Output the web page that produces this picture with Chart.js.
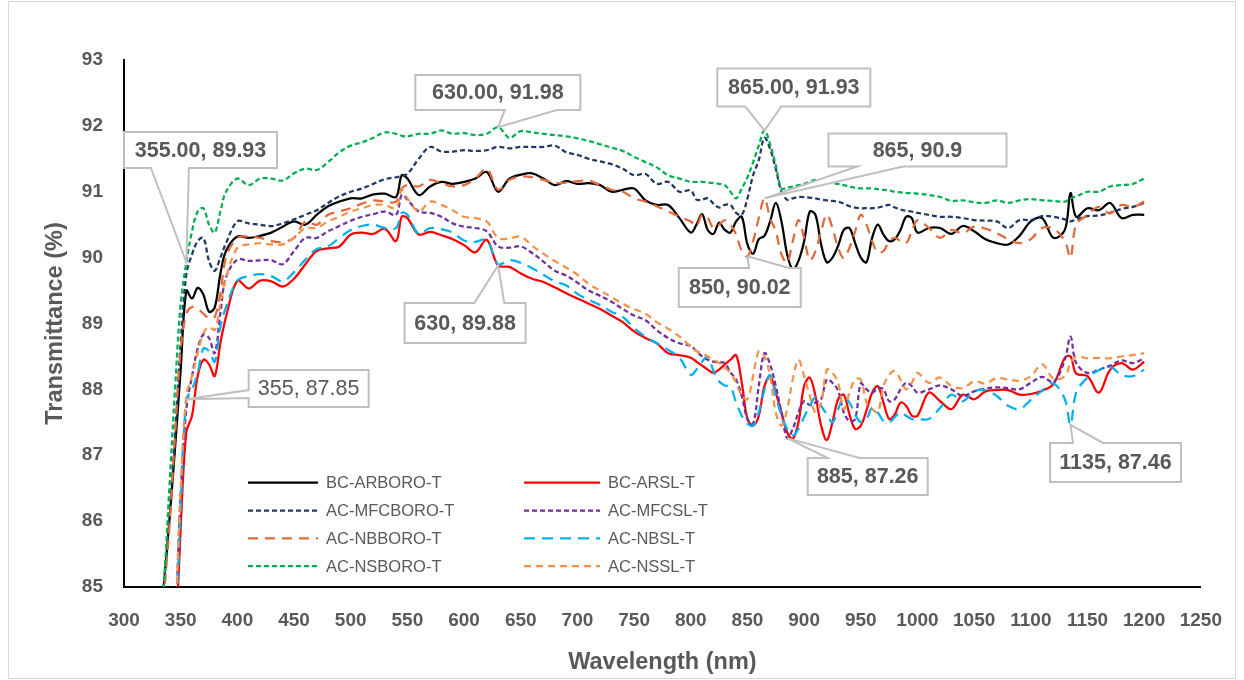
<!DOCTYPE html>
<html>
<head>
<meta charset="utf-8">
<title>Transmittance</title>
<script src="https://cdn.jsdelivr.net/npm/chart.js@4.4.0/dist/chart.umd.min.js"></script>
<style>
  html, body { margin: 0; padding: 0; background: #fff; }
  #contenedor { position: relative; width: 1244px; height: 680px; }
</style>
</head>
<body>
<div id="contenedor"><canvas id="grafica-transmitancia"></canvas></div>
<script>
//------- Datos (longitud de onda en nm, transmitancia en %)

var longitudOnda = [330,335,340,345,350,355,360,365,370,375,380,385,390,
  400,410,420,430,440,450,460,470,480,490,500,510,520,530,540,545,
  550,560,570,580,590,600,610,620,630,640,650,660,670,680,690,700,710,720,730,740,750,760,770,780,790,
  800,805,810,815,820,825,830,835,840,845,850,855,860,865,870,875,880,885,890,895,
  900,905,910,915,920,925,930,935,940,945,950,955,960,965,970,975,980,985,990,995,1000,
  1010,1020,1030,1040,1050,1060,1070,1080,1090,1100,1110,1120,1130,1135,1140,1150,1160,1170,1180,1190,1200];

var bcArBoro = [84.0,85.0,86.0,87.1,88.3,89.5,89.38,89.54,89.44,89.18,89.24,89.75,90.1,
  90.32,90.3,90.33,90.38,90.47,90.55,90.5,90.65,90.78,90.85,90.9,90.9,90.96,90.97,90.92,91.25,
  91.2,90.95,91.08,91.15,91.12,91.15,91.2,91.3,91.0,91.2,91.26,91.28,91.2,91.1,91.16,91.12,91.13,91.1,91.0,91.03,91.05,90.87,90.8,90.8,90.6,
  90.38,90.5,90.66,90.42,90.36,90.53,90.42,90.38,90.55,90.62,90.2,90.06,90.28,90.33,90.55,90.83,90.55,90.05,89.82,89.95,
  90.25,90.7,90.65,90.2,89.93,90.0,90.18,90.42,90.45,90.22,90.0,89.93,90.3,90.5,90.35,90.25,90.28,90.42,90.62,90.6,90.38,
  90.45,90.45,90.36,90.48,90.4,90.28,90.22,90.2,90.33,90.55,90.6,90.3,90.42,90.98,90.62,90.75,90.72,90.83,90.6,90.65,90.65];

var bcArSl = [78.5,80.5,82.2,83.9,85.9,87.35,87.6,88.2,88.45,88.38,88.2,88.7,89.1,
  89.65,89.53,89.65,89.64,89.56,89.68,89.9,90.1,90.14,90.17,90.35,90.38,90.36,90.44,90.25,90.62,
  90.6,90.35,90.39,90.34,90.28,90.19,90.08,90.27,89.88,89.86,89.76,89.68,89.63,89.55,89.46,89.38,89.3,89.22,89.12,89.02,88.88,88.78,88.7,88.55,88.52,
  88.48,88.42,88.36,88.3,88.25,88.3,88.38,88.45,88.52,88.1,87.55,87.45,87.6,88.05,88.2,87.95,87.65,87.35,87.25,87.5,
  88.05,88.18,87.9,87.45,87.23,87.5,87.85,87.92,87.62,87.4,87.45,87.68,87.95,88.05,87.8,87.55,87.62,87.8,87.75,87.6,87.6,
  87.95,87.82,87.7,87.92,87.85,87.97,87.99,87.99,87.92,87.93,87.98,88.08,88.48,88.5,88.24,88.2,87.95,88.3,88.4,88.3,88.42];

var acMfcBoro = [84.0,85.0,86.1,87.3,88.7,89.75,90.05,90.25,90.3,89.95,89.8,90.0,90.22,
  90.55,90.52,90.5,90.48,90.52,90.58,90.65,90.72,90.83,90.93,91.0,91.05,91.12,91.19,91.22,91.24,
  91.27,91.5,91.68,91.61,91.61,91.63,91.62,91.63,91.68,91.66,91.68,91.68,91.68,91.7,91.6,91.56,91.5,91.46,91.42,91.35,91.25,91.27,91.12,91.15,91.0,
  91.02,90.88,90.88,90.9,90.82,90.76,90.8,90.8,90.68,90.65,90.9,91.25,91.48,91.82,91.65,91.35,91.0,90.88,90.9,90.92,
  90.92,90.91,90.9,90.88,90.87,90.86,90.85,90.82,90.78,90.76,90.75,90.75,90.75,90.76,90.78,90.8,90.76,90.73,90.71,90.7,90.68,
  90.65,90.62,90.62,90.6,90.57,90.56,90.55,90.45,90.57,90.57,90.63,90.62,90.58,90.55,90.58,90.63,90.64,90.68,90.74,90.77,90.83];

var acMfcSl = [78.5,80.5,82.4,84.2,86.4,87.7,88.2,88.62,88.83,88.78,88.55,89.15,89.7,
  89.97,89.95,89.96,89.96,89.9,90.1,90.3,90.3,90.4,90.48,90.56,90.62,90.66,90.7,90.65,90.95,
  90.88,90.7,90.68,90.62,90.52,90.47,90.45,90.4,90.17,90.15,90.17,90.07,89.94,89.8,89.73,89.62,89.5,89.42,89.33,89.22,89.12,89.05,88.9,88.78,88.7,
  88.66,88.58,88.5,88.45,88.42,88.41,88.4,88.26,88.15,87.9,87.55,87.48,88.05,88.55,88.38,88.05,87.65,87.26,87.4,87.65,
  87.82,87.76,87.8,87.85,88.15,88.1,87.98,87.65,87.52,87.55,88.09,88.0,87.95,88.02,88.0,87.82,87.85,88.0,88.1,88.05,87.95,
  88.0,88.06,88.0,87.9,87.97,88.01,88.03,88.02,88.0,88.1,88.19,88.11,88.45,88.8,88.4,88.25,88.3,88.36,88.44,88.4,88.47];

var acNbBoro = [83.5,84.8,85.9,87.3,88.6,89.15,89.25,89.22,89.15,89.08,89.1,89.45,90.0,
  90.3,90.32,90.3,90.25,90.24,90.3,90.55,90.5,90.65,90.7,90.75,90.82,90.87,90.85,90.85,91.05,
  91.1,91.08,91.18,91.13,91.08,91.1,91.2,91.35,91.03,91.18,91.23,91.22,91.18,91.13,91.14,91.16,91.17,91.1,91.03,91.0,90.9,90.85,90.78,90.7,90.62,
  90.55,90.48,90.65,90.6,90.45,90.5,90.57,90.5,90.35,90.1,90.02,90.25,90.6,90.9,90.6,90.4,90.05,89.92,90.25,90.57,
  90.3,89.96,90.1,90.4,90.65,90.45,90.15,89.99,90.15,90.4,90.65,90.5,90.25,90.08,90.1,90.25,90.3,90.25,90.22,90.4,90.57,
  90.45,90.3,90.42,90.37,90.47,90.44,90.37,90.28,90.22,90.28,90.45,90.44,90.25,90.0,90.5,90.65,90.77,90.67,90.8,90.77,90.85];

var acNbSl = [78.5,80.5,82.4,84.0,86.2,87.85,88.0,88.25,88.62,88.58,88.42,88.95,89.25,
  89.65,89.72,89.75,89.72,89.64,89.78,89.97,90.13,90.17,90.3,90.42,90.48,90.5,90.45,90.45,90.68,
  90.65,90.36,90.45,90.43,90.38,90.26,90.24,90.27,89.9,89.96,89.92,89.84,89.74,89.64,89.58,89.45,89.36,89.28,89.18,89.1,88.93,88.8,88.7,88.6,88.48,
  88.22,88.3,88.42,88.5,88.28,88.12,88.06,88.04,87.8,87.6,87.48,87.45,87.65,87.99,88.22,87.9,87.6,87.4,87.3,87.4,
  87.58,87.75,87.88,87.75,87.62,87.5,87.7,87.88,87.8,87.62,87.5,87.55,87.72,87.65,87.52,87.5,87.58,87.65,87.6,87.55,87.55,
  87.55,87.72,87.92,87.82,87.97,87.99,87.9,87.75,87.7,87.84,87.98,88.09,87.85,87.46,87.95,88.18,88.29,88.34,88.22,88.2,88.3];

var acNsBoro = [84.0,85.0,86.5,88.0,89.3,89.93,90.4,90.7,90.75,90.5,90.38,90.7,91.0,
  91.2,91.1,91.2,91.2,91.17,91.28,91.35,91.33,91.45,91.6,91.7,91.75,91.82,91.9,91.88,91.85,
  91.84,91.88,91.88,91.93,91.88,91.89,91.86,91.88,91.98,91.82,91.92,91.9,91.88,91.86,91.84,91.81,91.77,91.72,91.67,91.62,91.53,91.45,91.37,91.25,91.2,
  91.15,91.15,91.15,91.14,91.13,91.12,91.1,91.0,90.9,91.05,91.22,91.45,91.7,91.93,91.72,91.4,91.05,91.06,91.08,91.1,
  91.12,91.15,91.18,91.16,91.15,91.13,91.12,91.1,91.08,91.06,91.05,91.05,91.05,91.04,91.03,91.02,91.0,90.99,90.98,90.98,90.97,
  90.95,90.92,90.86,90.87,90.84,90.83,90.87,90.83,90.87,90.89,90.87,90.86,90.85,90.9,90.93,91.0,91.0,91.08,91.1,91.12,91.2];

var acNsSl = [78.5,80.5,82.4,84.3,86.5,87.9,88.2,88.55,88.85,88.95,88.9,89.3,89.7,
  90.15,90.2,90.22,90.2,90.2,90.3,90.45,90.45,90.55,90.62,90.7,90.75,90.8,90.8,90.75,91.03,
  90.9,90.7,90.85,90.8,90.72,90.62,90.6,90.55,90.3,90.29,90.32,90.18,90.06,89.95,89.85,89.74,89.6,89.5,89.4,89.3,89.22,89.15,89.02,88.92,88.8,
  88.65,88.58,88.55,88.5,88.45,88.4,88.33,88.25,88.1,87.9,87.85,88.2,88.58,88.5,88.2,87.65,87.45,87.7,88.15,88.45,
  88.2,87.9,87.65,87.8,88.3,88.25,88.1,87.7,87.95,88.15,88.15,87.8,87.7,87.65,88.05,88.22,88.28,88.15,88.0,88.1,88.25,
  88.1,88.18,88.05,88.02,88.12,88.09,88.17,88.15,88.13,88.2,88.38,88.16,88.2,88.4,88.5,88.47,88.48,88.47,88.5,88.52,88.55];

var nombresSeries = ['BC-ARBORO-T','BC-ARSL-T','AC-MFCBORO-T','AC-MFCSL-T','AC-NBBORO-T','AC-NBSL-T','AC-NSBORO-T','AC-NSSL-T'];
var valoresSeries = [bcArBoro, bcArSl, acMfcBoro, acMfcSl, acNbBoro, acNbSl, acNsBoro, acNsSl];

// ejes
var rangoX = [300, 1250], pasoX = 50;
var rangoY = [85, 93], pasoY = 1;

// etiquetas de datos: punto senalado [nm, %] y su texto
var puntosEtiqueta = [[355,89.93],[630,91.98],[865,91.93],[865,90.9],[850,90.02],[630,89.88],[355,87.85],[885,87.26],[1135,87.46]];
var textosEtiqueta = ['355.00, 89.93','630.00, 91.98','865.00, 91.93','865, 90.9','850, 90.02','630, 89.88','355, 87.85','885, 87.26','1135, 87.46'];

//------- Estilos (fuera de los datos)
var colores = ['#000000','#FF0000','#1F3864','#7030A0','#E2693A','#00B0F0','#00B050','#F2924A'];
var trazos = [[],[],[5,3],[5,3],[10,7],[11,7],[5,3],[7,5]];
var FUENTE = "'Liberation Sans', Arial, sans-serif";
var GRIS = '#595959';

// cajas de las etiquetas: centro en unidades de datos, tamano en px, lado y posicion de la punta
var cajasEtiqueta = [
  {cx:367.5, cy:91.634, w:153, h:36, lado:'abajo', f:0.30, m:19, negrita:true},
  {cx:629.8, cy:92.507, w:165, h:35, lado:'abajo', f:0.70, m:26, negrita:true},
  {cx:890.9, cy:92.583, w:153, h:38, lado:'abajo', f:0.30, m:18, negrita:true},
  {cx:1000,  cy:91.634, w:178, h:33, lado:'abajo', f:0.29, m:23, negrita:true},
  {cx:843.2, cy:89.547, w:122, h:39, lado:'arriba', f:0.74, m:20, negrita:true},
  {cx:600.9, cy:89.008, w:121, h:40, lado:'arriba', f:0.70, m:15, negrita:true},
  {cx:462.9, cy:88.013, w:120, h:37, lado:'izq', f:0.65, m:4, negrita:false},
  {cx:956.1, cy:86.677, w:120, h:37, lado:'arriba', f:0.30, m:16, negrita:true},
  {cx:1174.7, cy:86.890, w:131, h:39, lado:'arriba', f:0.29, m:15, negrita:true}
];

// leyenda interna (px relativos al area de la grafica)
var leyenda = {x:[124, 400], largo:[70, 76], arriba:422.7, salto:27.8};

//------- Plugins de dibujo
var marcoPlugin = {
  id: 'marco',
  beforeDraw: function(chart){
    var ctx = chart.ctx;
    ctx.save();
    ctx.fillStyle = '#fff';
    ctx.fillRect(0, 0, chart.width, chart.height);
    ctx.strokeStyle = '#D9D9D9';
    ctx.lineWidth = 1;
    ctx.strokeRect(8.5, 1.5, chart.width - 17, chart.height - 3);
    ctx.restore();
  }
};

var etiquetasPlugin = {
  id: 'etiquetas',
  afterDatasetsDraw: function(chart){
    var ctx = chart.ctx, ejeX = chart.scales.x, ejeY = chart.scales.y;
    ctx.save();
    // leyenda
    var area = chart.chartArea;
    ctx.font = '16.5px ' + FUENTE;
    ctx.textAlign = 'left';
    ctx.textBaseline = 'middle';
    chart.data.datasets.forEach(function(ds, i){
      var col = i % 2, fila = Math.floor(i / 2);
      var x0 = area.left + leyenda.x[col], y = area.top + leyenda.arriba + fila * leyenda.salto;
      ctx.strokeStyle = ds.borderColor;
      ctx.lineWidth = ds.borderWidth;
      ctx.setLineDash(ds.borderDash);
      ctx.beginPath(); ctx.moveTo(x0, y); ctx.lineTo(x0 + leyenda.largo[col], y); ctx.stroke();
      ctx.setLineDash([]);
      ctx.fillStyle = GRIS;
      ctx.fillText(ds.label, x0 + leyenda.largo[col] + 8, y + 1);
    });
    // etiquetas de datos con su punta
    puntosEtiqueta.forEach(function(p, i){
      var c = cajasEtiqueta[i];
      var ax = ejeX.getPixelForValue(p[0]), ay = ejeY.getPixelForValue(p[1]);
      var cx = ejeX.getPixelForValue(c.cx), cy = ejeY.getPixelForValue(c.cy);
      var l = cx - c.w / 2, r = cx + c.w / 2, t = cy - c.h / 2, b = cy + c.h / 2;
      ctx.beginPath();
      ctx.moveTo(l, t);
      if (c.lado === 'arriba') { var mx = l + c.w * c.f; ctx.lineTo(mx - c.m, t); ctx.lineTo(ax, ay); ctx.lineTo(mx + c.m, t); }
      ctx.lineTo(r, t);
      ctx.lineTo(r, b);
      if (c.lado === 'abajo') { var mx2 = l + c.w * c.f; ctx.lineTo(mx2 + c.m, b); ctx.lineTo(ax, ay); ctx.lineTo(mx2 - c.m, b); }
      ctx.lineTo(l, b);
      if (c.lado === 'izq') { var my = t + c.h * c.f; ctx.lineTo(l, my + c.m); ctx.lineTo(ax, ay); ctx.lineTo(l, my - c.m); }
      ctx.closePath();
      ctx.fillStyle = '#fff';
      ctx.fill();
      ctx.strokeStyle = '#BFBFBF';
      ctx.lineWidth = 2;
      ctx.stroke();
      ctx.fillStyle = GRIS;
      ctx.font = (c.negrita ? 'bold ' : '') + '21.5px ' + FUENTE;
      ctx.textAlign = 'center';
      ctx.textBaseline = 'middle';
      ctx.fillText(textosEtiqueta[i], cx, cy + 1);
    });
    ctx.restore();
  }
};

//------- Construccion de la grafica
var conjuntos = valoresSeries.map(function(serie, i){
  return {
    label: nombresSeries[i],
    data: longitudOnda.map(function(x, j){ return {x: x, y: serie[j]}; }),
    borderColor: colores[i],
    backgroundColor: colores[i],
    borderWidth: 2.25,
    borderDash: trazos[i],
    pointRadius: 0,
    fill: false,
    tension: 0.35,
    order: nombresSeries.length - i
  };
});

var canvas = document.getElementById('grafica-transmitancia').getContext('2d');
var grafica = new Chart(canvas, {
  type: 'line',
  data: {datasets: conjuntos},
  options: {
    responsive: true,
    maintainAspectRatio: false,
    animation: false,
    devicePixelRatio: 1,
    layout: {padding: {left: 0, right: 36, top: 60, bottom: 0}},
    plugins: {legend: {display: false}, tooltip: {enabled: false}},
    scales: {
      x: {
        type: 'linear', min: rangoX[0], max: rangoX[1],
        ticks: {stepSize: pasoX, autoSkip: false, maxRotation: 0, color: GRIS, padding: 22,
                font: {family: FUENTE, size: 19, weight: 'bold'},
                callback: function(valor){ return String(valor); }},
        grid: {display: false, drawTicks: false},
        border: {display: true, color: '#000', width: 2},
        title: {display: true, text: 'Wavelength (nm)', color: GRIS, padding: {top: 0, bottom: 3},
                font: {family: FUENTE, size: 23.5, weight: 'bold'}},
        afterFit: function(eje){ eje.height = 93; }
      },
      y: {
        type: 'linear', min: rangoY[0], max: rangoY[1],
        ticks: {stepSize: pasoY, color: GRIS, padding: 21,
                font: {family: FUENTE, size: 19, weight: 'bold'}},
        grid: {display: false, drawTicks: false},
        border: {display: true, color: '#000', width: 2},
        title: {display: true, text: 'Transmittance (%)', color: GRIS, padding: {top: 41, bottom: 0},
                font: {family: FUENTE, size: 23.5, weight: 'bold'}},
        afterFit: function(eje){ eje.width = 124; }
      }
    }
  },
  plugins: [marcoPlugin, etiquetasPlugin]
});
</script>
</body>
</html>
